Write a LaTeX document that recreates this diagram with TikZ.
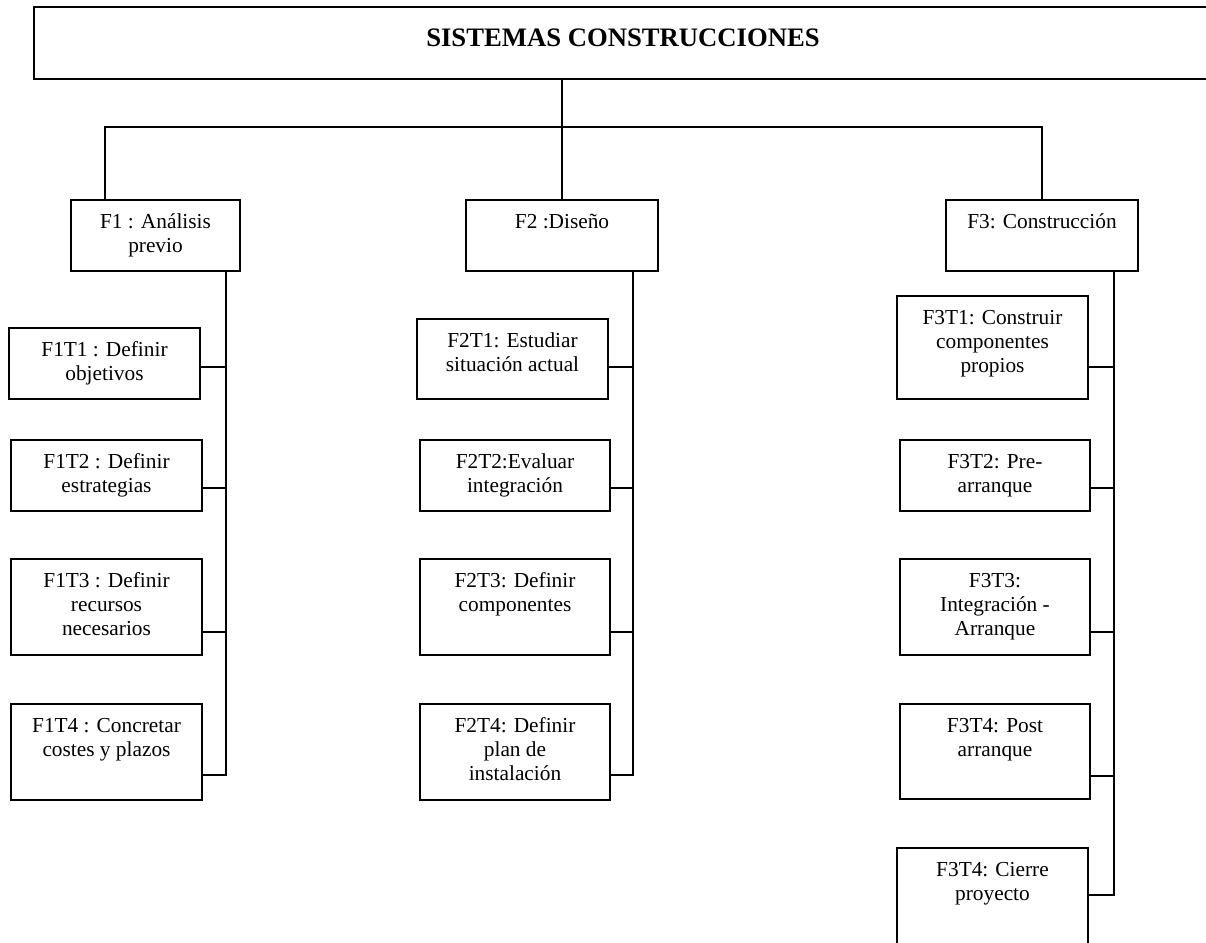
\documentclass[tikz,border=0pt]{standalone}
\usepackage{fontspec}
\setmainfont{Liberation Serif}
\newdimen\pxu
\pxu=0.75pt
\tikzset{
  box/.style={draw, line width=1.3pt, inner sep=0pt, font={\fontsize{16pt}{18pt}\selectfont}},
  titlebox/.style={draw, line width=1.4pt, inner sep=0pt, font={\fontsize{20pt}{24pt}\selectfont\bfseries}},
  spine/.style={line width=1.3pt, line join=miter},
  link/.style={line width=1pt},
}
% \taskbox{name}{left}{top}{right}{bottom}{text}: a framed box, text set from the top
\newcommand{\taskbox}[6]{%
  \node[box] (#1) at ({(#2+#4)/2},{(#3+#5)/2})
    {\parbox[c][\dimexpr\pxu*(#5-#3)\relax][t]{\dimexpr\pxu*(#4-#2)\relax}{\centering\rule{0pt}{21pt}#6}};}
\begin{document}
\begin{tikzpicture}[x=0.75pt, y=-0.75pt]
\useasboundingbox (0,0) rectangle (1206,942);
\clip (0,0) rectangle (1206,942);

% project title
\node[titlebox] (title) at (623,43)
  {\parbox[c][\dimexpr\pxu*72\relax][t]{\dimexpr\pxu*1178\relax}{\centering\rule{0pt}{30pt}SISTEMAS CONSTRUCCIONES}};

% phases
\taskbox{F1}{71}{200}{240}{271}{F1 : Análisis\\previo}
\taskbox{F2}{466}{200}{658}{271}{F2 :Diseño}
\taskbox{F3}{946}{200}{1138}{271}{F3: Construcción}

% tasks of phase 1
\taskbox{F1T1}{9}{328}{200}{399}{F1T1 : Definir\\objetivos}
\taskbox{F1T2}{11}{440}{202}{511}{F1T2 : Definir\\estrategias}
\taskbox{F1T3}{11}{559}{202}{655}{F1T3 : Definir\\recursos\\necesarios}
\taskbox{F1T4}{11}{704}{202}{800}{F1T4 : Concretar\\costes y plazos}

% tasks of phase 2
\taskbox{F2T1}{417}{319}{608}{399}{F2T1: Estudiar\\situación actual}
\taskbox{F2T2}{420}{440}{610}{511}{F2T2:Evaluar\\integración}
\taskbox{F2T3}{420}{559}{610}{655}{F2T3: Definir\\componentes}
\taskbox{F2T4}{420}{704}{610}{800}{F2T4: Definir\\plan de\\instalación}

% tasks of phase 3
\taskbox{F3T1}{897}{296}{1088}{399}{F3T1: Construir\\componentes\\propios}
\taskbox{F3T2}{900}{440}{1090}{511}{F3T2: Pre-\\arranque}
\taskbox{F3T3}{900}{559}{1090}{655}{F3T3:\\Integración -\\Arranque}
\taskbox{F3T4}{900}{704}{1090}{799}{F3T4: Post\\arranque}
\taskbox{F3T5}{897}{848}{1088}{970}{F3T4: Cierre\\proyecto}

% title to phases
\coordinate (busL) at (105,127);
\coordinate (busR) at (1042,127);
\draw[spine] (title.south -| F2.north) -- (F2.north);
\draw[spine] (F1.north -| busL) -- (busL) -- (busR) -- (F3.north);

% phase 1 spine and branches
\coordinate (a1) at (226,367);
\coordinate (a2) at (226,488);
\coordinate (a3) at (226,632);
\coordinate (a4) at (226,775);
\draw[spine] (F1.south -| a1) -- (a4) -- (a4 -| F1T4.east);
\draw[link] (a1 -| F1T1.east) -- (a1);
\draw[link] (a2 -| F1T2.east) -- (a2);
\draw[link] (a3 -| F1T3.east) -- (a3);

% phase 2 spine and branches
\coordinate (b1) at (633,367);
\coordinate (b2) at (633,488);
\coordinate (b3) at (633,632);
\coordinate (b4) at (633,775);
\draw[spine] (F2.south -| b1) -- (b4) -- (b4 -| F2T4.east);
\draw[link] (b1 -| F2T1.east) -- (b1);
\draw[link] (b2 -| F2T2.east) -- (b2);
\draw[link] (b3 -| F2T3.east) -- (b3);

% phase 3 spine and branches
\coordinate (c1) at (1114,367);
\coordinate (c2) at (1114,488);
\coordinate (c3) at (1114,632);
\coordinate (c4) at (1114,776);
\coordinate (c5) at (1114,895);
\draw[spine] (F3.south -| c1) -- (c5) -- (c5 -| F3T5.east);
\draw[link] (c1 -| F3T1.east) -- (c1);
\draw[link] (c2 -| F3T2.east) -- (c2);
\draw[link] (c3 -| F3T3.east) -- (c3);
\draw[link] (c4 -| F3T4.east) -- (c4);
\end{tikzpicture}
\end{document}
